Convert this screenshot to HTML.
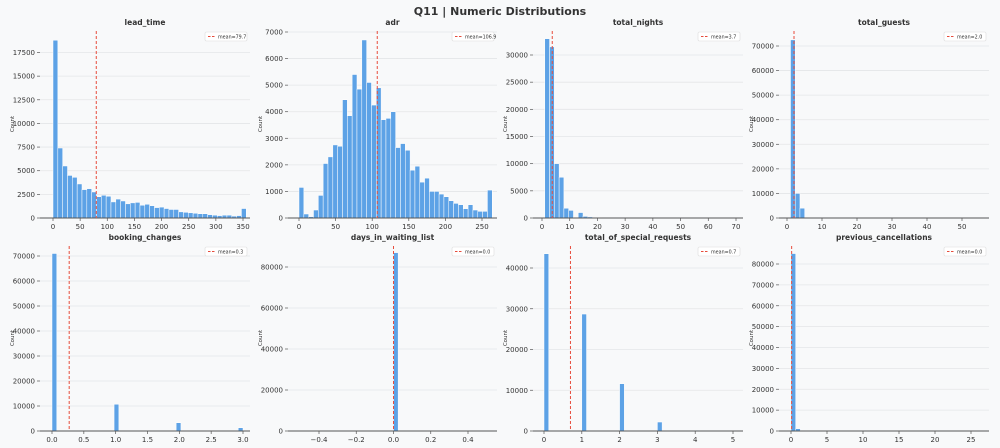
<!DOCTYPE html>
<html><head><meta charset="utf-8"><style>
html,body{margin:0;padding:0;background:#f8f9fa;}
svg{display:block;font-family:"DejaVu Sans","Liberation Sans",sans-serif;}
</style></head><body>
<svg id="chart" width="1000" height="448" viewBox="0 0 1000 448">
<rect x="0" y="0" width="1000" height="448" fill="#f8f9fa"/>
<text x="500" y="15" text-anchor="middle" font-size="11" font-weight="bold" fill="#333">Q11 | Numeric Distributions</text>
</svg>
<script>
// ---- data ----
const panelNames = ["lead_time","adr","total_nights","total_guests","booking_changes","days_in_waiting_list","total_of_special_requests","previous_cancellations"];
const leadTimeCounts = [18800,7400,5500,4500,4300,3600,3000,3100,2750,2250,2400,2300,1700,2000,1800,1500,1600,1650,1350,1450,1300,1100,1150,1000,900,900,650,600,550,500,450,450,350,300,250,300,300,200,250,1000];
const adrCounts = [1150,150,50,300,850,2050,2300,2750,2700,4450,3850,5400,4850,6700,5100,4250,4900,3700,3750,4000,2650,2800,2550,1800,1950,1350,1500,1000,1000,900,800,650,550,500,350,500,300,250,250,1050];
const totalNightsCounts = [33000,31500,10000,7500,1800,1400,150,1000,300,200,100,80,50,30,20,15,10,10,5,5,5,0,0,0,0,0,0,0,0,0,0,0,0,0,0,0,0,0,0,5];
const totalGuestsCounts = [72500,10000,4000,50,0,0,0,0,0,0,0,0,0,0,0,0,0,0,0,0,0,0,0,0,0,0,0,0,0,0,0,0,0,0,0,0,0,0,0,5];
const bookingChangesCounts = [71000,0,0,0,0,0,0,0,0,0,0,0,0,10700,0,0,0,0,0,0,0,0,0,0,0,0,3300,0,0,0,0,0,0,0,0,0,0,0,0,1300];
const waitingListCounts = [87000];
const specialRequestsCounts = [43500,0,0,0,0,0,0,0,28700,0,0,0,0,0,0,0,11600,0,0,0,0,0,0,0,2200,0,0,0,0,0,0,0,200,0,0,0,0,0,0,20];
const prevCancellationsCounts = [85000,1100,50,20,10,5,0,0,0,0,0,0,0,0,0,0,0,0,0,0,0,0,0,0,0,0,0,0,0,0,0,0,0,0,0,0,0,0,0,5];
const binStarts = [0,0,1,1,0,0,0,0];
const binWidths = [8.9,6.6,1.725,1.35,0.075,0.025,0.125,0.65];
const meanValues = [79.7,106.9,3.7,2.0,0.27,0.0,0.7,0.09];
const meanLabels = ["mean=79.7","mean=106.9","mean=3.7","mean=2.0","mean=0.3","mean=0.0","mean=0.7","mean=0.0"];
const yTicks = [
  [0,2500,5000,7500,10000,12500,15000,17500],
  [0,1000,2000,3000,4000,5000,6000,7000],
  [0,5000,10000,15000,20000,25000,30000],
  [0,10000,20000,30000,40000,50000,60000,70000],
  [0,10000,20000,30000,40000,50000,60000,70000],
  [0,20000,40000,60000,80000],
  [0,10000,20000,30000,40000],
  [0,10000,20000,30000,40000,50000,60000,70000,80000]
];
const xTicks = [
  [0,50,100,150,200,250,300,350],
  [0,50,100,150,200,250],
  [0,10,20,30,40,50,60,70],
  [0,10,20,30,40,50],
  [0,0.5,1,1.5,2,2.5,3],
  [-0.4,-0.2,0,0.2,0.4],
  [0,1,2,3,4,5],
  [0,5,10,15,20,25]
];
const xTickLabels = [
  ["0","50","100","150","200","250","300","350"],
  ["0","50","100","150","200","250"],
  ["0","10","20","30","40","50","60","70"],
  ["0","10","20","30","40","50"],
  ["0.0","0.5","1.0","1.5","2.0","2.5","3.0"],
  ["\u22120.4","\u22120.2","0.0","0.2","0.4"],
  ["0","1","2","3","4","5"],
  ["0","5","10","15","20","25"]
];
const allCounts = [leadTimeCounts,adrCounts,totalNightsCounts,totalGuestsCounts,bookingChangesCounts,waitingListCounts,specialRequestsCounts,prevCancellationsCounts];

// ---- layout (pixel geometry) ----
const layout = [
  {l:40,r:250,t:30,b:218, xa:[0,53], xb:[350,243], yv:17500, yp:52.5},
  {l:288,r:497,t:30,b:218, xa:[0,299], xb:[250,482], yv:7000, yp:32},
  {l:533,r:743,t:30,b:218, xa:[0,542], xb:[70,736], yv:30000, yp:55},
  {l:779,r:989,t:30,b:218, xa:[0,787], xb:[50,962], yv:70000, yp:46},
  {l:40,r:250,t:245,b:431, xa:[0,52], xb:[3,243], yv:70000, yp:256},
  {l:288,r:497,t:245,b:431, xa:[-0.4,319], xb:[0.4,468], yv:80000, yp:267},
  {l:533,r:743,t:245,b:431, xa:[0,544], xb:[5,733], yv:40000, yp:268},
  {l:779,r:989,t:245,b:431, xa:[0,791], xb:[25,971], yv:80000, yp:264}
];
const NS = "http://www.w3.org/2000/svg";
const svg = document.getElementById("chart");
function mk(tag, attrs, parent){ const e=document.createElementNS(NS,tag); for(const k in attrs) e.setAttribute(k,attrs[k]); (parent||svg).appendChild(e); return e; }

panelNames.forEach((name, p) => {
  const L = layout[p];
  const xs = v => L.xa[1] + (v - L.xa[0]) * (L.xb[1]-L.xa[1])/(L.xb[0]-L.xa[0]);
  const ys = v => L.b - v * (L.b - L.yp)/L.yv;
  const g = mk("g", {});
  
  
  // gridlines & y ticks
  yTicks[p].forEach(v => {
    const y = ys(v);
    if (v !== 0) {
      const gl = mk("line", {x1:L.l, x2:L.r, y1:y, y2:y, stroke:"#e4e6e8", "stroke-width":0.8}, g);
      
      
    }
    const tm = mk("line", {x1:L.l-3, x2:L.l, y1:y, y2:y, stroke:"#555", "stroke-width":0.7}, g);
    
    
    const t = mk("text", {x:L.l-5, y:y+2.5, "text-anchor":"end", "font-size":7, fill:"#333"}, g);
    t.textContent = String(v);
    
    
  });
  // bars
  allCounts[p].forEach((c, i) => {
    if (c <= 0) return;
    const x0 = xs(binStarts[p] + i*binWidths[p]);
    const x1 = xs(binStarts[p] + (i+1)*binWidths[p]);
    const y = ys(c);
    const r = mk("rect", {x:x0, y:y, width:Math.max(0.5,x1-x0), height:L.b-y, fill:"#5da2e6", stroke:"#ffffff", "stroke-width":0.5}, g);
    
    
  });
  // x axis
  const ax = mk("line", {x1:L.l, x2:L.r, y1:L.b, y2:L.b, stroke:"#555", "stroke-width":0.9}, g);
  
  
  xTicks[p].forEach((v, i) => {
    const x = xs(v);
    const tm = mk("line", {x1:x, x2:x, y1:L.b, y2:L.b+3, stroke:"#555", "stroke-width":0.7}, g);
    
    
    const t = mk("text", {x:x, y:L.b+11, "text-anchor":"middle", "font-size":7, fill:"#333"}, g);
    t.textContent = xTickLabels[p][i];
    
    
  });
  // mean line
  const mx = xs(meanValues[p]);
  const ml = mk("line", {x1:mx, x2:mx, y1:L.t+1, y2:L.b, stroke:"#e74c3c", "stroke-width":1, "stroke-dasharray":"3,2"}, g);
  
  
  // title
  const tt = mk("text", {x:(L.l+L.r)/2, y:L.t-5, "text-anchor":"middle", "font-size":7.5, "font-weight":"bold", fill:"#333"}, g);
  tt.textContent = name;
  
  
  // y label
  const cy = (L.t+L.b)/2;
  const yl = mk("text", {x:L.l-26, y:cy, "text-anchor":"middle", "font-size":5.5, fill:"#333", transform:"rotate(-90 "+(L.l-26)+" "+cy+")"}, g);
  yl.textContent = "Count";
  
  
  // legend
  const lw = 42, lx = L.r - lw - 3, ly = L.t + 2;
  const lg = mk("g", {}, g);
  
  
  mk("rect", {x:lx, y:ly, width:lw, height:9, fill:"#fff", stroke:"#ddd", "stroke-width":0.6, rx:1.5}, lg);
  mk("line", {x1:lx+3, x2:lx+11, y1:ly+4.5, y2:ly+4.5, stroke:"#e74c3c", "stroke-width":0.9, "stroke-dasharray":"2.5,1.5"}, lg);
  const lt = mk("text", {x:lx+13, y:ly+6.3, "font-size":4.8, fill:"#333"}, lg);
  lt.textContent = meanLabels[p];
  
  
});
</script>
</body></html>
